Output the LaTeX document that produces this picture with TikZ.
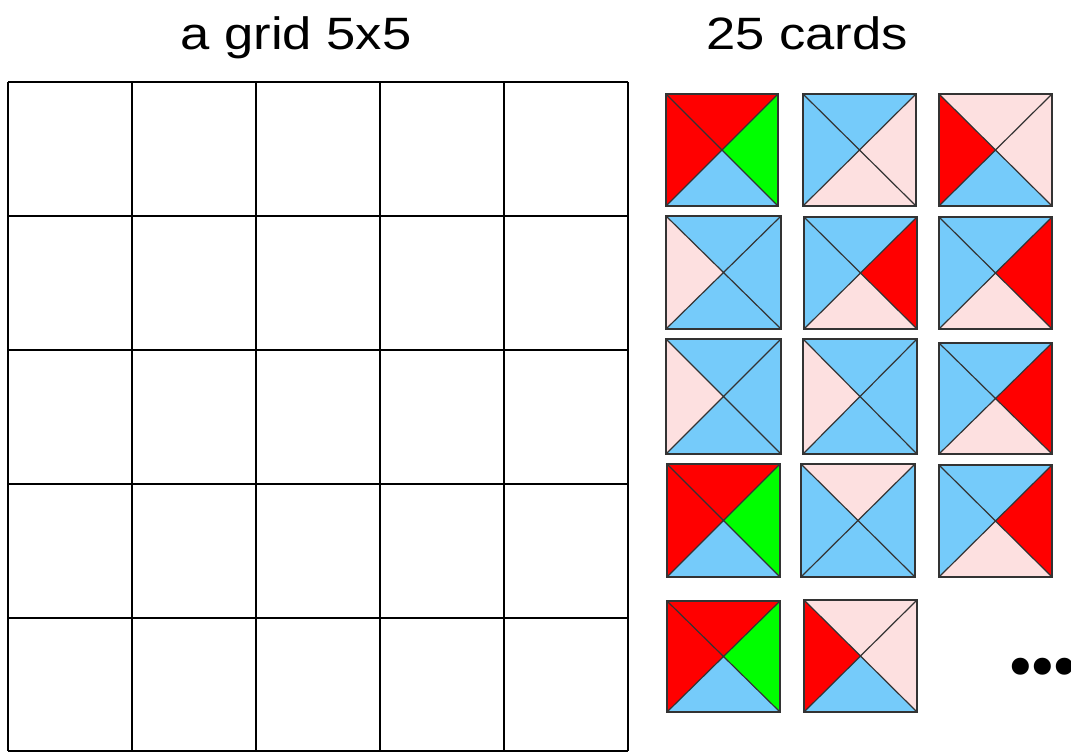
\documentclass[tikz,border=0pt]{standalone}
\usepackage{fontspec}
\setmainfont{Liberation Sans}
\newfontfamily\dotfont{DejaVu Sans}
\definecolor{cred}{HTML}{FF0000}
\definecolor{cgreen}{HTML}{00FF00}
\definecolor{cblue}{HTML}{75CBFA}
\definecolor{cpink}{HTML}{FDE0E0}
\tikzset{
  gridline/.style={line width=2.1pt,black},
  cardedge/.style={line width=0.9pt,draw=black!80},
  title/.style={font=\fontsize{34}{40}\selectfont,anchor=base,xscale=1.16},
}
% \mycard{x1}{y1}{x2}{y2}{top}{right}{bottom}{left}
\newcommand{\mycard}[8]{%
  \coordinate (a) at (#1,#2); \coordinate (b) at (#3,#2);
  \coordinate (c) at (#3,#4); \coordinate (d) at (#1,#4);
  \coordinate (m) at ({(#1+#3)/2},{(#2+#4)/2});
  \fill[#5] (a) -- (b) -- (m) -- cycle;
  \fill[#6] (b) -- (c) -- (m) -- cycle;
  \fill[#7] (c) -- (d) -- (m) -- cycle;
  \fill[#8] (d) -- (a) -- (m) -- cycle;
  \draw[cardedge] (a) -- (c) (b) -- (d);
  \draw[cardedge] (a) rectangle (c);
}
\begin{document}
\begin{tikzpicture}[x=0.75pt,y=-0.75pt]
\useasboundingbox (0,0) rectangle (1071,752);
\fill[white] (0,0) rectangle (1071,752);
% titles
\node[title] (t1) at (296,50) {a grid 5x5};
\node[title] (t2) at (807,50) {25 cards};
% grid
\foreach \x in {8,132,256,380,504,628} \draw[gridline] (\x,82) -- (\x,751);
\foreach \y in {82,216,350,484,618,751} \draw[gridline] (8,\y) -- (628,\y);
% cards row 1
\mycard{666}{94}{778}{206}{cred}{cgreen}{cblue}{cred}
\mycard{803}{94}{916}{206}{cblue}{cpink}{cpink}{cblue}
\mycard{939}{94}{1052}{206}{cpink}{cpink}{cblue}{cred}
% row 2
\mycard{666}{216}{781}{329}{cblue}{cblue}{cblue}{cpink}
\mycard{804}{217}{917}{329}{cblue}{cred}{cpink}{cblue}
\mycard{939}{217}{1052}{329}{cblue}{cred}{cpink}{cblue}
% row 3
\mycard{666}{339}{781}{454}{cblue}{cblue}{cblue}{cpink}
\mycard{803}{339}{917}{454}{cblue}{cblue}{cblue}{cpink}
\mycard{939}{343}{1052}{454}{cblue}{cred}{cpink}{cblue}
% row 4
\mycard{667}{464}{780}{577}{cred}{cgreen}{cblue}{cred}
\mycard{801}{464}{915}{577}{cpink}{cblue}{cblue}{cblue}
\mycard{939}{465}{1052}{577}{cblue}{cred}{cpink}{cblue}
% row 5
\mycard{667}{601}{780}{712}{cred}{cgreen}{cblue}{cred}
\mycard{804}{600}{917}{712}{cpink}{cpink}{cblue}{cred}
% ellipsis
\node[anchor=west,inner sep=0pt,font=\dotfont\fontsize{44}{44}\selectfont] (dots) at (1003,673) {•\kern-9.5pt•\kern-9.5pt•};
\end{tikzpicture}
\end{document}
